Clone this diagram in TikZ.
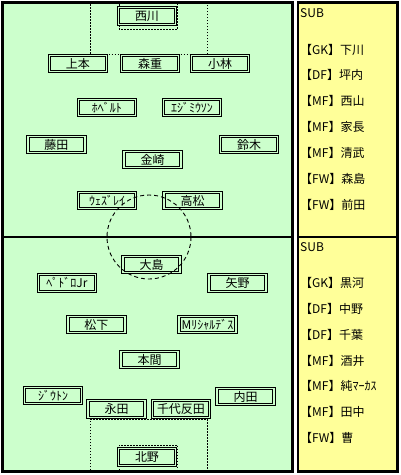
\documentclass[tikz,border=0pt]{standalone}
\usepackage{fontspec}
\setmainfont{Noto Sans CJK JP}
\definecolor{pitch}{RGB}{204,255,204}
\definecolor{subbg}{RGB}{255,255,153}
\begin{document}
\begin{tikzpicture}[x=1pt,y=-1pt,
  player/.style={draw=black, line width=0.9pt, double=pitch, double distance=1.4pt,
    fill=pitch, minimum width=57pt, minimum height=16.5pt, inner sep=0pt,
    font=\fontsize{12}{13}\selectfont},
  subtxt/.style={anchor=west, inner sep=0pt, font=\fontsize{12}{13}\selectfont},
  arealine/.style={line width=1pt, dash pattern=on 1.5pt off 1.5pt},
  circleline/.style={line width=0.9pt, dash pattern=on 4pt off 3pt}]
\useasboundingbox (0,0) rectangle (400,475);
\fill[white] (0,0) rectangle (400,475);
% pitch
\fill[pitch] (2.5,2.5) rectangle (292.5,471.5);
% sub panel
\fill[subbg] (298,2.5) rectangle (397.5,471.5);
% penalty / goal areas
\draw[arealine] (90,4) -- (90,54.5) -- (207,54.5) -- (207,4);
\draw[arealine] (119,4) -- (119,29) -- (177.5,29) -- (177.5,4);
\draw[arealine] (90,470) -- (90,419) -- (207,419) -- (207,470);
\draw[arealine] (119,470) -- (119,445) -- (177.5,445) -- (177.5,470);
% players
\node[player] (nishikawa) at (147,16) {西川};
\node[player] (uemoto) at (78,63.5) {上本};
\node[player] (morishige) at (150,63.5) {森重};
\node[player] (kobayashi) at (220,63.5) {小林};
\node[player] (roberto) at (107,107.5) {ﾎﾍﾞﾙﾄ};
\node[player] (edmilson) at (192,107.5) {ｴｼﾞﾐｳｿﾝ};
\node[player] (fujita) at (56.5,144.5) {藤田};
\node[player] (kanazaki) at (152.5,159.5) {金崎};
\node[player] (suzuki) at (249,144.5) {鈴木};
\node[player] (wesley) at (107,200.5) {ｳｪｽﾞﾚｲ};
\node[player] (takamatsu) at (192.5,200.5) {高松};
\node[player] (oshima) at (151.5,264.5) {大島};
\node[player] (pedro) at (67,283) {ﾍﾟﾄﾞﾛJr};
\node[player] (yano) at (237.5,283) {矢野};
\node[player] (matsushita) at (96.5,324.5) {松下};
\node[player] (marcio) at (207.5,324.5) {Mﾘｼｬﾙﾃﾞｽ};
\node[player] (honma) at (149.5,359.5) {本間};
\node[player] (jiuton) at (53,395.5) {ｼﾞｳﾄﾝ};
\node[player] (nagata) at (116.5,409) {永田};
\node[player] (chiyotanda) at (181,409) {千代反田};
\node[player] (uchida) at (245.5,396.5) {内田};
\node[player] (kitano) at (147,457) {北野};
% centre circle
\draw[circleline] (149,237) circle (42);
% pitch frame and half line
\draw[line width=3pt] (2.5,2.5) rectangle (292.5,471.5);
\draw[line width=2.5pt] (2.5,237) -- (292.5,237);
% sub frame
\draw[line width=2.5pt] (298,2.5) rectangle (397.5,471.5);
\draw[line width=2.5pt] (298,237) -- (397.5,237);
% sub lists
\node[subtxt] (sub1) at (300,13.5) {SUB};
\node[subtxt] (s1a) at (300,50) {【GK】下川};
\node[subtxt] (s1b) at (300,75) {【DF】坪内};
\node[subtxt] (s1c) at (300,100.5) {【MF】西山};
\node[subtxt] (s1d) at (300,126.5) {【MF】家長};
\node[subtxt] (s1e) at (300,152.5) {【MF】清武};
\node[subtxt] (s1f) at (300,178.5) {【FW】森島};
\node[subtxt] (s1g) at (300,204.5) {【FW】前田};
\node[subtxt] (sub2) at (300,247) {SUB};
\node[subtxt] (s2a) at (300,283) {【GK】黒河};
\node[subtxt] (s2b) at (300,309) {【DF】中野};
\node[subtxt] (s2c) at (300,335) {【DF】千葉};
\node[subtxt] (s2d) at (300,360.5) {【MF】酒井};
\node[subtxt] (s2e) at (300,386) {【MF】純ﾏｰｶｽ};
\node[subtxt] (s2f) at (300,412) {【MF】田中};
\node[subtxt] (s2g) at (300,438) {【FW】曹};
\end{tikzpicture}
\end{document}
